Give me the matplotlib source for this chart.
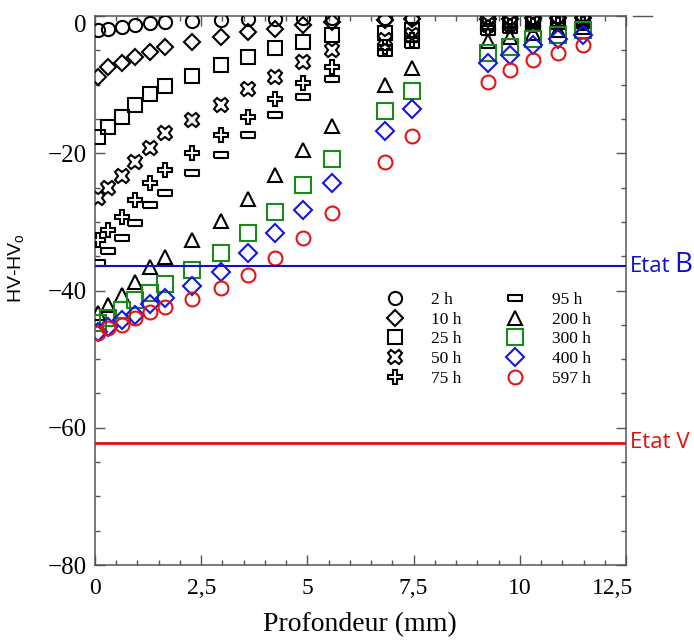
import matplotlib
matplotlib.use("Agg")
import matplotlib.pyplot as plt
from matplotlib.ticker import FixedLocator, FixedFormatter, MultipleLocator
from matplotlib.transforms import ScaledTranslation
from matplotlib.lines import Line2D

# ---------------- data ----------------
depth = [0.07, 0.31, 0.64, 0.94, 1.29, 1.65, 2.28, 2.96, 3.60, 4.24, 4.89, 5.58,
         6.82, 7.46, 9.25, 9.76, 10.31, 10.89, 11.48]

labels = ["2 h", "10 h", "25 h", "50 h", "75 h", "95 h", "200 h", "300 h", "400 h", "597 h"]

hv_2h = [-2.0, -1.9, -1.6, -1.3, -1.0, -0.9, -0.8, -0.6, -0.5, -0.4, -0.3, -0.3,
         -0.3, -0.3, -0.2, -0.2, -0.2, -0.2, -0.2]
hv_10h = [-8.9, -7.4, -6.9, -6.0, -5.2, -4.5, -3.8, -3.0, -2.3, -1.9, -1.3, -0.9,
          -0.6, -0.5, -0.4, -0.4, -0.3, -0.3, -0.3]
hv_25h = [-17.6, -16.2, -14.7, -13.0, -11.3, -10.2, -8.7, -7.2, -6.0, -4.7, -3.8, -2.8,
          -2.5, -2.0, -0.9, -0.8, -0.7, -0.6, -0.5]
hv_50h = [-26.5, -25.0, -23.3, -21.3, -19.2, -17.1, -15.2, -13.0, -10.7, -8.9, -6.7, -5.0,
          -3.5, -2.8, -1.3, -1.1, -1.0, -0.9, -0.8]
hv_75h = [-32.7, -31.2, -29.3, -26.8, -24.3, -22.4, -20.0, -17.3, -14.7, -12.1, -9.8, -7.4,
          -4.5, -3.5, -1.8, -1.5, -1.3, -1.1, -1.0]
hv_95h = [-36.0, -34.3, -32.4, -30.2, -27.6, -25.8, -22.9, -20.3, -17.3, -14.4, -11.8, -9.2,
          -5.4, -4.2, -2.3, -2.0, -1.7, -1.5, -1.3]
hv_200h = [-43.3, -42.1, -40.7, -38.8, -36.6, -35.1, -32.7, -29.9, -26.6, -23.2, -19.5, -16.0,
           -10.0, -7.6, -3.7, -3.0, -2.5, -2.0, -1.6]
hv_300h = [-44.8, -44.0, -42.9, -41.4, -40.4, -39.1, -37.0, -34.5, -31.6, -28.6, -24.6, -20.9,
           -13.8, -10.9, -5.4, -4.5, -3.4, -2.8, -2.0]
hv_400h = [-46.0, -45.3, -44.3, -43.6, -42.0, -41.1, -39.4, -37.3, -34.5, -31.6, -28.2, -24.3,
           -16.8, -13.6, -6.9, -5.7, -4.2, -3.4, -2.8]
hv_597h = [-46.2, -45.5, -45.0, -44.0, -43.1, -42.4, -41.3, -39.7, -37.8, -35.3, -32.3, -28.7,
           -21.3, -17.5, -9.6, -7.9, -6.4, -5.4, -4.2]

etat_B = -36.5
etat_V = -62.2

xtick_vals = [0, 2.5, 5, 7.5, 10, 12.5]
xtick_labels = ["0", "2,5", "5", "7,5", "10", "12,5"]
ytick_vals = [-80, -60, -40, -20, 0]

# ---------------- style ----------------
W, H = 694, 641
fig = plt.figure(figsize=(W / 100, H / 100), dpi=100)
L, R, T, B = 95, 626, 16, 565
ax = fig.add_axes([L / W, 1 - B / H, (R - L) / W, (B - T) / H])

serif = "Liberation Serif"
GREEN = "#1a8a1a"
BLUE = "#1414e6"
RED = "#e51414"

rect_marker = [(-1, -0.42), (1, -0.42), (1, 0.42), (-1, 0.42), (-1, -0.42)]

series = [
    (hv_2h, "o", "black", 9.5),
    (hv_10h, "D", "black", 8.6),
    (hv_25h, "s", "black", 9.5),
    (hv_50h, "X", "black", 10.5),
    (hv_75h, "P", "black", 10.5),
    (hv_95h, rect_marker, "black", 9.5),
    (hv_200h, "^", "black", 9.5),
    (hv_300h, "s", GREEN, 11.0),
    (hv_400h, "D", BLUE, 9.5),
    (hv_597h, "o", RED, 10.0),
]

for (vals, mk, col, ms), lab in zip(series, labels):
    ax.plot(depth, vals, linestyle="none", marker=mk, markersize=ms,
            markerfacecolor="none", markeredgecolor=col, markeredgewidth=1.5,
            label=lab, zorder=3)

ax.axhline(etat_B, color="#1010c8", lw=1.5, zorder=4)
ax.axhline(etat_V, color="#e01010", lw=2.0, zorder=4)

ax.set_xlim(0, 12.5)
ax.set_ylim(-80, 0)

ax.xaxis.set_major_locator(FixedLocator(xtick_vals))
ax.xaxis.set_major_formatter(FixedFormatter(xtick_labels))
ax.xaxis.set_minor_locator(MultipleLocator(0.5))
ax.yaxis.set_major_locator(FixedLocator(ytick_vals))
ax.yaxis.set_minor_locator(MultipleLocator(5))

ax.tick_params(which="both", direction="in", top=True, right=True, color="#555555", width=1.0)
ax.tick_params(which="major", length=7)
ax.tick_params(which="minor", length=3.5)
ax.tick_params(axis="x", which="major", pad=9, labelsize=17)
ax.tick_params(axis="y", which="major", pad=6, labelsize=18)
for lab in ax.get_xticklabels() + ax.get_yticklabels():
    lab.set_fontfamily(serif)

for sp in ax.spines.values():
    sp.set_color("#555555")
    sp.set_linewidth(1.1)

# shift the "0" y label down and "12,5" x label left, as in the reference
ylabs = ax.get_yticklabels()
ylabs[-1].set_transform(ylabs[-1].get_transform() + ScaledTranslation(0, -8 / 100, fig.dpi_scale_trans))
xlabs = ax.get_xticklabels()
xlabs[-1].set_transform(xlabs[-1].get_transform() + ScaledTranslation(-13 / 100, 0, fig.dpi_scale_trans))

fig.text(360 / W, 1 - 625 / H, "Profondeur (mm)", fontsize=20, family=serif,
         ha="center", va="center")
fig.text(17 / W, 1 - 268 / H, r"HV-HV$_\mathregular{o}$", fontsize=14,
         family="Liberation Sans", rotation=90, ha="center", va="center")

# Etat labels
sans = "Open Sans"
ax.annotate("Etat", xy=(1.0, etat_B), xycoords=("axes fraction", "data"),
            xytext=(3, 0), textcoords="offset points", color="#1010c8",
            fontsize=16, family=sans, ha="left", va="center", annotation_clip=False)
ax.annotate("B", xy=(1.0, etat_B), xycoords=("axes fraction", "data"),
            xytext=(35, 1), textcoords="offset points", color="#1010c8",
            fontsize=20, family=sans, ha="left", va="center", annotation_clip=False)
ax.annotate("Etat V", xy=(1.0, etat_V), xycoords=("axes fraction", "data"),
            xytext=(3, 0), textcoords="offset points", color="#e01010",
            fontsize=16, family=sans, ha="left", va="center", annotation_clip=False)

# stray top line beyond right spine
fig.add_artist(Line2D([633 / W, 652 / W], [1 - 16 / H, 1 - 16 / H], color="#555555", lw=1.0))

leg = ax.legend(ncol=2, loc="upper left", bbox_to_anchor=(386 / W, 1 - 292 / H),
                bbox_transform=fig.transFigure, frameon=False,
                prop={"family": serif, "size": 12.5}, handlelength=1.0,
                handletextpad=1.6, columnspacing=2.6, labelspacing=0.2,
                borderpad=0, borderaxespad=0)

fig.savefig("out.png", dpi=100)
